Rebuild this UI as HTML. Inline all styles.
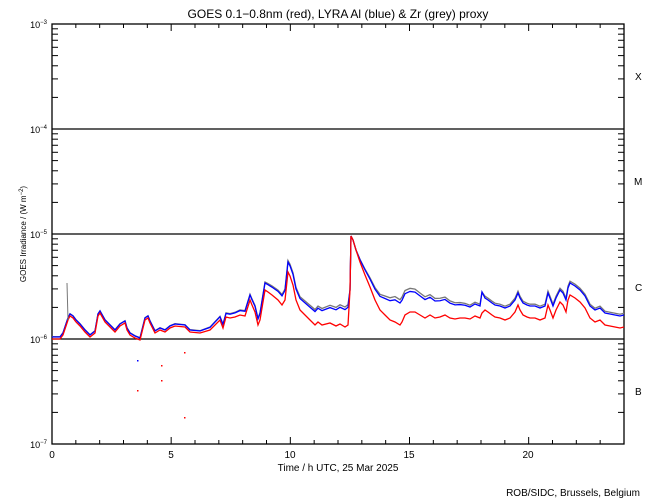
<!DOCTYPE html>
<html><head><meta charset="utf-8"><style>
body{margin:0;background:#fff}
svg{display:block;font-family:"Liberation Sans",sans-serif}
</style></head><body>
<svg id="s" width="650" height="500" xmlns="http://www.w3.org/2000/svg">
<rect width="650" height="500" fill="#fff"/>
<text x="338" y="18" font-size="12" text-anchor="middle">GOES 0.1−0.8nm (red), LYRA Al (blue) &amp; Zr (grey) proxy</text>
<g id="ax" stroke="#000" stroke-width="1.3" fill="none">
<rect x="52" y="24" width="572" height="420"/>
<line x1="52" y1="129" x2="624" y2="129"/>
<line x1="52" y1="234" x2="624" y2="234"/>
<line x1="52" y1="339" x2="624" y2="339"/>
</g>
<g font-size="9">
<text x="47" y="28" text-anchor="end">10<tspan dy="-4" font-size="6">−3</tspan></text>
<text x="47" y="133" text-anchor="end">10<tspan dy="-4" font-size="6">−4</tspan></text>
<text x="47" y="238" text-anchor="end">10<tspan dy="-4" font-size="6">−5</tspan></text>
<text x="47" y="343" text-anchor="end">10<tspan dy="-4" font-size="6">−6</tspan></text>
<text x="47" y="448" text-anchor="end">10<tspan dy="-4" font-size="6">−7</tspan></text>
</g>
<g font-size="10">
<text x="635" y="80">X</text><text x="634" y="185">M</text><text x="635" y="291">C</text><text x="635" y="395">B</text>
<text x="52" y="458" text-anchor="middle">0</text><text x="171" y="458" text-anchor="middle">5</text>
<text x="290" y="458" text-anchor="middle">10</text><text x="409" y="458" text-anchor="middle">15</text>
<text x="528" y="458" text-anchor="middle">20</text>
<text x="338" y="471" text-anchor="middle">Time / h UTC, 25 Mar 2025</text>
<text x="640" y="496" text-anchor="end">ROB/SIDC, Brussels, Belgium</text>
</g>
<text transform="translate(26,234) rotate(-90)" font-size="8" text-anchor="middle">GOES Irradiance / (W m<tspan dy="-3" font-size="6">−2</tspan><tspan dy="3">)</tspan></text>
</svg>
<script>
var s=document.getElementById('s'),NS='http://www.w3.org/2000/svg';
function el(t,a){var e=document.createElementNS(NS,t);for(var k in a)e.setAttribute(k,a[k]);s.appendChild(e);return e;}
for(var h=1;h<24;h++){var x=52+h*23.833,L=h%5==0?7:4;
el('line',{x1:x,y1:24,x2:x,y2:24+L,stroke:'#000'});el('line',{x1:x,y1:444,x2:x,y2:444-L,stroke:'#000'});}
for(var d=0;d<4;d++)for(var m=2;m<10;m++){var y=444-105*(d+Math.log10(m));
el('line',{x1:52,y1:y,x2:58,y2:y,stroke:'#000'});el('line',{x1:624,y1:y,x2:618,y2:y,stroke:'#000'});}
var r=[52,339,60,339,63,335,66,326,68,320,70,316,73,318,76,322,80,326,85,332,90,337,95,333,98,316,100,313,105,322,110,327,115,332,120,326,125,323,127,330,130,335,135,338,140,340,145,320,148,318,150,323,155,333,160,330,165,332,170,328,175,326,185,327,190,332,200,333,210,330,215,325,220,320,223,328,226,317,230,318,235,317,240,315,245,316,250,300,252,305,255,312,258,325,260,320,262,308,265,290,268,292,272,295,278,300,282,305,285,300,288,272,290,276,293,285,296,300,300,310,305,315,310,320,315,325,318,322,322,325,330,323,336,326,340,324,345,327,348,325,350,290,351,236,353,240,356,250,360,262,365,275,370,287,375,300,380,310,385,315,390,320,395,322,400,325,402,322,405,315,410,312,415,312,420,315,425,318,430,315,435,318,440,317,445,315,450,318,455,319,460,318,465,318,470,319,475,316,480,318,482,313,485,310,488,312,492,315,495,317,500,318,505,320,510,318,515,312,518,305,520,310,523,315,527,317,530,318,535,318,540,320,545,318,548,305,550,310,553,318,556,310,560,302,563,305,566,312,568,300,570,295,575,298,580,302,585,308,590,318,595,322,600,320,605,325,610,326,615,327,620,328,624,327];
function off(x){if(x<200)return 2;if(x<250)return 2+3*(x-200)/50;if(x<350)return 5+13*(x-250)/100;if(x<356)return 0;if(x<400)return 25*(x-356)/44;if(x<470)return 22-10*(x-400)/70;return 12;}
function pts(k){var a=[];for(var i=0;i<r.length;i+=2){var x=r[i],y=r[i+1]-k*off(x);if(x==482&&k)y=292;a.push(x+','+y);}return a.join(' ');}
el('polyline',{points:pts(1.15),fill:'none',stroke:'#777',"stroke-width":1.3});
el('polyline',{points:pts(1),fill:'none',stroke:'#00f',"stroke-width":1.3});
el('polyline',{points:pts(0),fill:'none',stroke:'#f00',"stroke-width":1.3});
el('line',{x1:67,y1:283,x2:68,y2:320,stroke:'#777'});
[[137,390,'#f00'],[161,380,'#f00'],[184,417,'#f00'],[137,360,'#00f'],[161,365,'#f00'],[184,352,'#f00']].forEach(function(p){el('rect',{x:p[0],y:p[1],width:1.5,height:1.5,fill:p[2]});});
</script>
</body></html>
